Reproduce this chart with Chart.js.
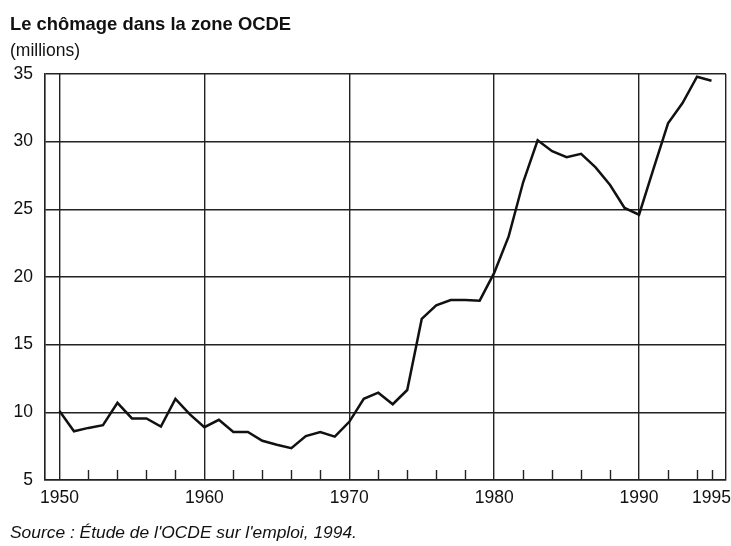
<!DOCTYPE html>
<html>
<head>
<meta charset="utf-8">
<script src="https://cdn.jsdelivr.net/npm/chart.js@4.4.1/dist/chart.umd.min.js"></script>
<style>
    body { margin: 0; background: #fff; font-family: "Liberation Sans", Arial, sans-serif; color: #111; }
    #wrap { position: relative; width: 731px; height: 546px; }
    .txt { position: absolute; left: 10px; white-space: nowrap; line-height: 20px; }
</style>
</head>
<body>
<div id="wrap">
    <canvas id="chomageChart" width="731" height="546"></canvas>
    <div class="txt" style="top:14px;font-weight:bold;font-size:18.4px">Le chômage dans la zone OCDE</div>
    <div class="txt" style="top:40px;font-size:17.5px">(millions)</div>
    <div class="txt" style="top:522px;font-style:italic;font-size:17.4px">Source : Étude de l'OCDE sur l'emploi, 1994.</div>
</div>
<script>
// years and unemployment in the OECD area (millions)
const years = [
    1950, 1951, 1952, 1953, 1954, 1955, 1956, 1957, 1958, 1959,
    1960, 1961, 1962, 1963, 1964, 1965, 1966, 1967, 1968, 1969,
    1970, 1971, 1972, 1973, 1974, 1975, 1976, 1977, 1978, 1979,
    1980, 1981, 1982, 1983, 1984, 1985, 1986, 1987, 1988, 1989,
    1990, 1991, 1992, 1993, 1994, 1995
];
const chomeurs = [
    10.1, 8.6, 8.85, 9.05, 10.7, 9.55, 9.55, 8.95, 11.0, 9.85,
    8.9, 9.45, 8.55, 8.55, 7.9, 7.6, 7.35, 8.25, 8.55, 8.2,
    9.3, 11.0, 11.45, 10.6, 11.65, 16.9, 17.9, 18.3, 18.3, 18.25,
    20.3, 23.0, 27.0, 30.1, 29.3, 28.85, 29.1, 28.1, 26.8, 25.1,
    24.6, 28.0, 31.35, 32.85, 34.8, 34.5
];
const xLabelYears = [1950, 1960, 1970, 1980, 1990, 1995];
const xGridYears = [1949, 1950, 1960, 1970, 1980, 1990, 1995, 1996];
const minorTickYears = [
    1952, 1954, 1956, 1958, 1962, 1964, 1966, 1968, 1972, 1974, 1976, 1978,
    1982, 1984, 1986, 1988, 1992, 1994, 1995
];

const gridColor = '#222';
const fontFamily = '"Liberation Sans", Arial, sans-serif';

// short ticks going up from the bottom axis
const minorTicks = {
    id: 'minorTicks',
    afterDatasetsDraw(chart) {
        const ctx = chart.ctx;
        const x = chart.scales.x;
        const bottom = chart.chartArea.bottom;
        ctx.save();
        ctx.strokeStyle = gridColor;
        ctx.lineWidth = 1.4;
        minorTickYears.forEach(function (yr) {
            const px = Math.round(x.getPixelForValue(yr)) + 0.5;
            ctx.beginPath();
            ctx.moveTo(px, bottom);
            ctx.lineTo(px, bottom - 10);
            ctx.stroke();
        });
        ctx.restore();
    }
};

new Chart(document.getElementById('chomageChart'), {
    type: 'line',
    data: {
        datasets: [{
            data: years.map(function (y, i) { return { x: y, y: chomeurs[i] }; }),
            borderColor: '#111',
            borderWidth: 2.5,
            pointRadius: 0,
            tension: 0,
            fill: false
        }]
    },
    options: {
        responsive: false,
        animation: false,
        layout: { padding: { top: 74, right: 5, left: 0, bottom: 0 } },
        plugins: {
            legend: { display: false },
            tooltip: { enabled: false }
        },
        scales: {
            x: {
                type: 'linear',
                min: 1949,
                max: 1996,
                afterBuildTicks: function (scale) {
                    scale.ticks = xGridYears.map(function (v) { return { value: v }; });
                },
                afterFit: function (scale) {
                    scale.height = 66;
                    scale.paddingLeft = 0;
                    scale.paddingRight = 0;
                },
                ticks: {
                    autoSkip: false,
                    maxRotation: 0,
                    padding: 8,
                    color: '#111',
                    font: { family: fontFamily, size: 17.5 },
                    callback: function (value) {
                        return xLabelYears.indexOf(value) >= 0 ? String(value) : '';
                    }
                },
                grid: {
                    drawTicks: false,
                    lineWidth: 1.4,
                    color: function (c) {
                        return c.tick && c.tick.value === 1995 ? 'rgba(0,0,0,0)' : gridColor;
                    }
                },
                border: { display: true, color: gridColor, width: 1.4 }
            },
            y: {
                min: 5,
                max: 35,
                afterFit: function (scale) { scale.width = 45; },
                ticks: {
                    stepSize: 5,
                    padding: 12,
                    color: '#111',
                    font: { family: fontFamily, size: 17.5 }
                },
                grid: { drawTicks: false, lineWidth: 1.4, color: gridColor },
                border: { display: true, color: gridColor, width: 1.4 }
            }
        }
    },
    plugins: [minorTicks]
});
</script>
</body>
</html>
